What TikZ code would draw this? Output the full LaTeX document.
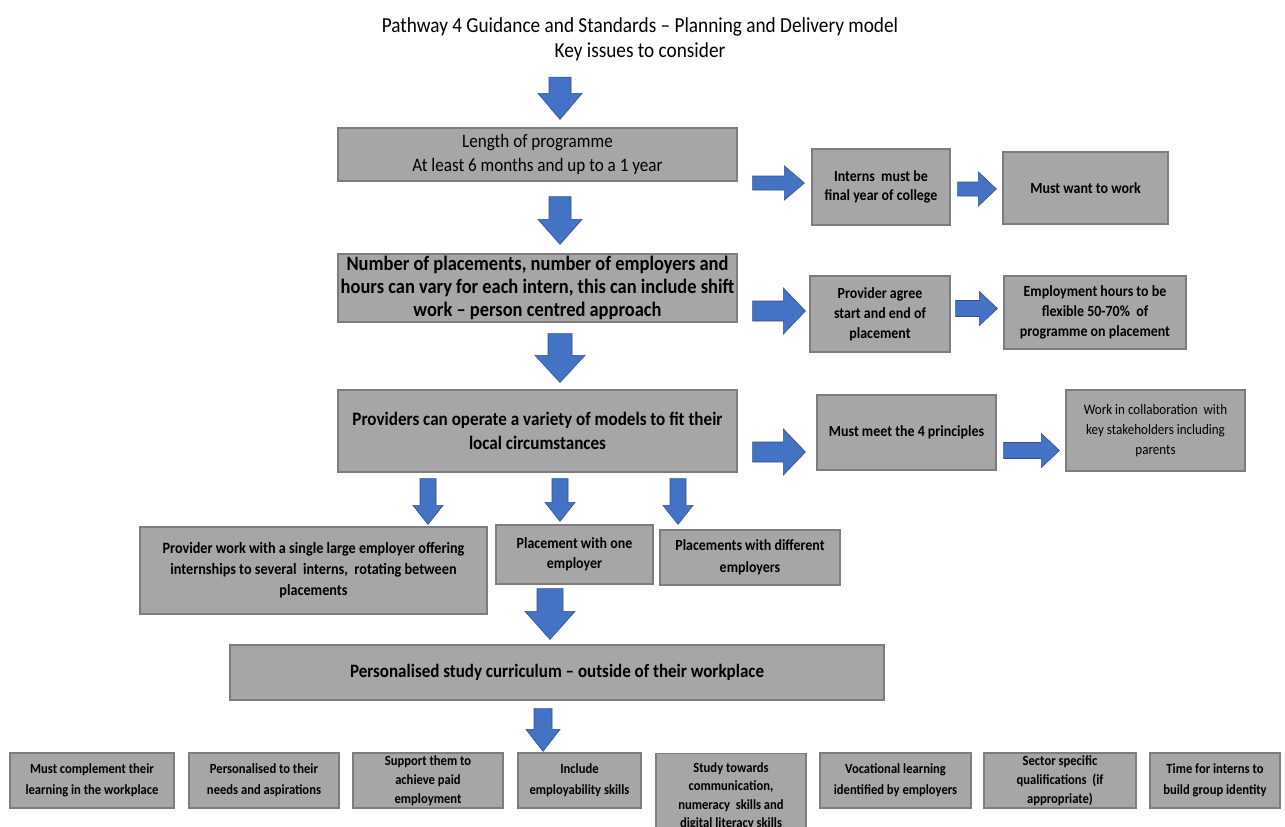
\documentclass[tikz,border=0pt]{standalone}
\usepackage{fontspec}
\setmainfont{Carlito}[FakeStretch=0.9]
\usetikzlibrary{calc}
\definecolor{boxfill}{RGB}{166,166,166}
\definecolor{boxline}{RGB}{125,125,125}
\definecolor{arrfill}{RGB}{68,114,196}
\definecolor{arrline}{RGB}{47,82,143}
% vertical block arrow: start, end, shaft half width, head half width, head length
\newcommand\darrow[5]{%
  \filldraw[barrow] let \p1=(#1), \p2=(#2) in
  (\x1-#3,\y1) -- (\x1+#3,\y1) -- (\x1+#3,\y2+#5) -- (\x1+#4,\y2+#5) -- (\x1,\y2)
  -- (\x1-#4,\y2+#5) -- (\x1-#3,\y2+#5) -- cycle;}
% horizontal block arrow
\newcommand\rarrow[5]{%
  \filldraw[barrow] let \p1=(#1), \p2=(#2) in
  (\x1,\y1-#3) -- (\x2-#5,\y1-#3) -- (\x2-#5,\y1-#4) -- (\x2,\y1)
  -- (\x2-#5,\y1+#4) -- (\x2-#5,\y1+#3) -- (\x1,\y1+#3) -- cycle;}
\begin{document}
\begin{tikzpicture}[x=1pt,y=-1pt,
  box/.style={draw=boxline, line width=1.2pt, fill=boxfill, align=center, inner sep=1pt},
  big/.style={font=\bfseries\fontsize{19}{24}\selectfont},
  mid/.style={font=\bfseries\fontsize{15.5}{20}\selectfont},
  small/.style={font=\bfseries\fontsize{14}{19}\selectfont},
  barrow/.style={fill=arrfill, draw=arrline, line width=0.6pt}]
\useasboundingbox (0,0) rectangle (1285,827);
\fill[white] (0,0) rectangle (1285,827);
\clip (0,0) rectangle (1285,827);

\node[align=center, font=\fontsize{21.4}{25}\selectfont] (title) at (640,39)
  {Pathway 4 Guidance and Standards – Planning and Delivery model\\Key issues to consider};

% main column
\node[box, font=\fontsize{19}{24}\selectfont, minimum width=399pt, minimum height=53pt] (b1) at (537.5,154.5)
  {Length of programme\\At least 6 months and up to a 1 year};
\node[box, font=\bfseries\fontsize{20.5}{23}\selectfont, minimum width=399pt, minimum height=68pt] (b2) at (537.5,288)
  {Number of placements, number of employers and\\hours can vary for each intern, this can include shift\\work – person centred approach};
\node[box, big, minimum width=399pt, minimum height=82pt] (b3) at (537.5,431)
  {Providers can operate a variety of models to fit their\\local circumstances};

% right side
\node[box, mid, font=\bfseries\fontsize{15.5}{19}\selectfont, minimum width=138pt, minimum height=76pt] (i1) at (881,187)
  {Interns\ \ must be\\final year of college};
\node[box, mid, minimum width=165pt, minimum height=72pt] (w1) at (1085.5,188)
  {Must want to work};
\node[box, mid, minimum width=140pt, minimum height=76pt] (p2) at (880,314)
  {Provider agree\\start and end of\\placement};
\node[box, mid, minimum width=182pt, minimum height=73pt] (e2) at (1095,312.5)
  {Employment hours to be\\flexible 50-70\%\ \ of\\programme on placement};
\node[box, mid, minimum width=179pt, minimum height=75pt] (m3) at (906.5,432.5)
  {Must meet the 4 principles};
\node[box, font=\fontsize{14.5}{20}\selectfont, minimum width=179pt, minimum height=81pt] (c3) at (1155.5,430.5)
  {Work in collaboration\ \ with\\key stakeholders including\\parents};

% models
\node[box, font=\bfseries\fontsize{15.8}{21}\selectfont, minimum width=347pt, minimum height=87pt] (s4) at (313.5,570.5)
  {Provider work with a single large employer offering\\internships to several\ \ interns,\ \ rotating between\\placements};
\node[box, mid, minimum width=157pt, minimum height=59pt] (o4) at (574.5,554.5)
  {Placement with one\\employer};
\node[box, mid, font=\bfseries\fontsize{15.5}{22}\selectfont, minimum width=180pt, minimum height=55pt] (d4) at (750,557.5)
  {Placements with different\\employers};

\node[box, font=\bfseries\fontsize{18.9}{22}\selectfont, minimum width=654pt, minimum height=55pt] (pc) at (557,672.5)
  {Personalised study curriculum – outside of their workplace};

% bottom row
\node[box, small, font=\bfseries\fontsize{14}{21}\selectfont, minimum width=164pt, minimum height=55pt] (q1) at (92,780.5)
  {Must complement their\\learning in the workplace};
\node[box, small, font=\bfseries\fontsize{14}{21}\selectfont, minimum width=150pt, minimum height=55pt] (q2) at (264,780.5)
  {Personalised to their\\needs and aspirations};
\node[box, small, minimum width=150pt, minimum height=55pt] (q3) at (428,780.5)
  {Support them to\\achieve paid\\employment};
\node[box, small, font=\bfseries\fontsize{14}{21}\selectfont, minimum width=123pt, minimum height=55pt] (q4) at (579.5,780.5)
  {Include\\employability skills};
\node[box, small, font=\bfseries\fontsize{14}{18.5}\selectfont, minimum width=150pt, minimum height=85pt, anchor=north] (q5) at (731,753)
  {Study towards\\communication,\\numeracy\ \ skills and\\digital literacy skills};
\node[box, small, font=\bfseries\fontsize{14}{21}\selectfont, minimum width=151pt, minimum height=55pt] (q6) at (895.5,780.5)
  {Vocational learning\\identified by employers};
\node[box, small, minimum width=152pt, minimum height=55pt] (q7) at (1060,780.5)
  {Sector specific\\qualifications\ \ (if\\appropriate)};
\node[box, small, font=\bfseries\fontsize{14}{21}\selectfont, minimum width=130pt, minimum height=55pt] (q8) at (1215,780.5)
  {Time for interns to\\build group identity};

% down arrows
\darrow{$(title.south)+(-80,13)$}{$(b1.north)+(22.5,-8)$}{11pt}{22pt}{26pt}
\darrow{$(b1.south)+(22.5,15)$}{$(b2.north)+(22.5,-9)$}{11pt}{22pt}{25pt}
\darrow{$(b2.south)+(22.5,11)$}{$(b3.north)+(22.5,-7)$}{12pt}{25pt}{27pt}
\darrow{$(b3.south)+(-109.5,6)$}{$(s4.north)+(114.5,-2)$}{8pt}{15pt}{19pt}
\darrow{$(b3.south)+(22.5,6)$}{$(o4.north)+(-14.5,-3)$}{8pt}{15pt}{19pt}
\darrow{$(b3.south)+(140.5,6)$}{$(d4.north)+(-72,-5)$}{8pt}{15pt}{19pt}
\darrow{$(o4.south)+(-24.5,4)$}{$(pc.north)+(-7,-5)$}{13pt}{25pt}{28pt}
\darrow{$(pc.south)+(-14,8)$}{$(q4.north)+(-36.5,-1)$}{9pt}{17pt}{22pt}

% right arrows
\rarrow{$(b1.east |- i1.west)+(15,-4)$}{$(i1.west)+(-7,-4)$}{7pt}{17pt}{20pt}
\rarrow{$(i1.east |- w1.west)+(7,1)$}{$(w1.west)+(-6,1)$}{7pt}{17pt}{18pt}
\rarrow{$(b2.east |- p2.west)+(15,-3)$}{$(p2.west)+(-4,-3)$}{10pt}{23pt}{22pt}
\rarrow{$(p2.east |- e2.west)+(5,-4)$}{$(e2.west)+(-6,-4)$}{8pt}{17pt}{18pt}
\rarrow{$(b3.east)+(15,21)$}{$(m3.west)+(-11,21)$}{10pt}{23pt}{22pt}
\rarrow{$(m3.east |- c3.west)+(7,20)$}{$(c3.west)+(-6,20)$}{8pt}{17pt}{18pt}
\end{tikzpicture}
\end{document}
